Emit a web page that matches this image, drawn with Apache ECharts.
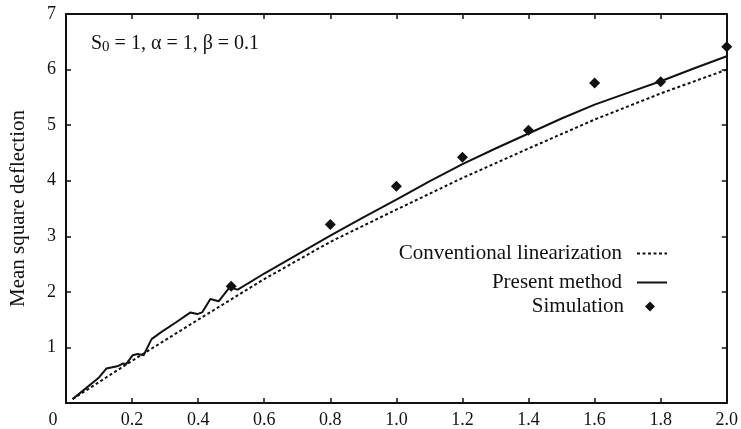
<!DOCTYPE html>
<html>
<head>
<meta charset="utf-8">
<script src="https://cdn.jsdelivr.net/npm/echarts@6/dist/echarts.min.js"></script>
<style>
  html, body { margin: 0; padding: 0; background: #fff; }
  #container { width: 741px; height: 429px; }
</style>
</head>
<body>
<div id="container"></div>
<script>
// data
var presentX = [0.02, 0.1, 0.122, 0.137, 0.155, 0.172, 0.182, 0.202, 0.217, 0.235, 0.259, 0.287, 0.33, 0.377, 0.397, 0.412, 0.437, 0.462, 0.495, 0.52, 0.55, 0.6, 0.7, 0.8, 0.9, 1.0, 1.1, 1.2, 1.3, 1.4, 1.5, 1.6, 1.7, 1.8, 1.9, 2.0];
var presentY = [0.07, 0.46, 0.62, 0.64, 0.66, 0.71, 0.70, 0.86, 0.88, 0.86, 1.15, 1.27, 1.44, 1.63, 1.60, 1.63, 1.87, 1.83, 2.08, 2.04, 2.15, 2.33, 2.67, 3.01, 3.34, 3.66, 3.99, 4.3, 4.58, 4.85, 5.12, 5.37, 5.58, 5.79, 6.02, 6.24];
var convX = [0.02, 0.2, 0.4, 0.6, 0.8, 1.0, 1.2, 1.4, 1.6, 1.8, 2.0];
var convY = [0.07, 0.76, 1.5, 2.23, 2.9, 3.48, 4.05, 4.58, 5.1, 5.57, 6.0];
var simX = [0.5, 0.8, 1.0, 1.2, 1.4, 1.6, 1.8, 2.0];
var simY = [2.1, 3.21, 3.9, 4.42, 4.91, 5.76, 5.78, 6.41];
var names = ['Conventional linearization', 'Present method', 'Simulation'];

function pairs(xs, ys) {
   return xs.map(function (x, i) { return [x, ys[i]]; });
}

var serif = 'Liberation Serif';
var dom = document.getElementById('container');
var myChart = echarts.init(dom, null, { renderer: 'canvas' });

function legendAt(name, top, right, w, h, gap, hideSymbol) {
   var l = {
      data: [name],
      right: right,
      top: top,
      align: 'right',
      padding: 0,
      itemWidth: w,
      itemHeight: h,
      formatter: '{t|{name}}',
      textStyle: {
         rich: { t: { fontFamily: serif, fontSize: 21, color: '#111', padding: [0, gap, 0, 0] } }
      }
   };
   if (hideSymbol) {
      // line legend only, no dot
      l.itemStyle = { opacity: 0 };
   }
   return l;
}

var axisLine = { show: true, onZero: false, lineStyle: { color: '#111', width: 2 } };
var axisTick = { show: true, inside: true, length: 5, lineStyle: { color: '#111', width: 1.5 } };

var option = {
   animation: false,
   backgroundColor: '#fff',
   title: {
      text: 'S{sub|0} = 1, α = 1, β = 0.1',
      left: 91,
      top: 32,
      padding: 0,
      textStyle: {
         fontFamily: serif,
         fontSize: 20,
         fontWeight: 'normal',
         color: '#111',
         rich: { sub: { fontFamily: serif, fontSize: 15, color: '#111', verticalAlign: 'bottom', padding: [8, 0, 0, 0] } }
      }
   },
   legend: [
      legendAt(names[0], 243, 73, 30, 10, 10, true),
      legendAt(names[1], 272, 73, 30, 10, 10, true),
      legendAt(names[2], 296, 86, 10, 10, 16, false)
   ],
   grid: { left: 61, right: 13, top: 14, bottom: 25, containLabel: false },
   xAxis: [
      {
         type: 'value', min: 0, max: 2, interval: 0.2,
         axisLine: axisLine, axisTick: axisTick, splitLine: { show: false },
         axisLabel: {
            margin: 8, color: '#111', fontFamily: serif, fontSize: 18,
            formatter: function (v) { return v === 0 ? '{z|0}' : v.toFixed(1); },
            rich: { z: { fontFamily: serif, fontSize: 18, color: '#111', padding: [0, 26, 0, 0] } }
         }
      },
      {
         type: 'value', position: 'top', min: 0, max: 2, interval: 0.2,
         axisLine: axisLine, axisTick: axisTick, splitLine: { show: false },
         axisLabel: { show: false }
      }
   ],
   yAxis: [
      {
         type: 'value', min: 0, max: 7, interval: 1,
         name: 'Mean square deflection', nameLocation: 'middle', nameGap: 37,
         nameTextStyle: { fontFamily: serif, fontSize: 21, color: '#111' },
         axisLine: axisLine, axisTick: axisTick, splitLine: { show: false },
         axisLabel: {
            margin: 10, color: '#111', fontFamily: serif, fontSize: 18,
            formatter: function (v) { return v === 0 ? '' : v; }
         }
      },
      {
         type: 'value', position: 'right', min: 0, max: 7, interval: 1,
         axisLine: axisLine, axisTick: axisTick, splitLine: { show: false },
         axisLabel: { show: false }
      }
   ],
   series: [
      {
         name: names[0],
         type: 'line',
         symbol: 'none',
         data: pairs(convX, convY),
         lineStyle: { color: '#111', width: 2, type: [3, 2.5] },
         itemStyle: { color: '#111' }
      },
      {
         name: names[1],
         type: 'line',
         symbol: 'none',
         data: pairs(presentX, presentY),
         lineStyle: { color: '#111', width: 2 },
         itemStyle: { color: '#111' }
      },
      {
         name: names[2],
         type: 'scatter',
         symbol: 'diamond',
         symbolSize: 11,
         clip: false,
         data: pairs(simX, simY),
         itemStyle: { color: '#111', opacity: 1 }
      }
   ]
};

myChart.setOption(option);
window.addEventListener('resize', myChart.resize);
</script>
</body>
</html>
